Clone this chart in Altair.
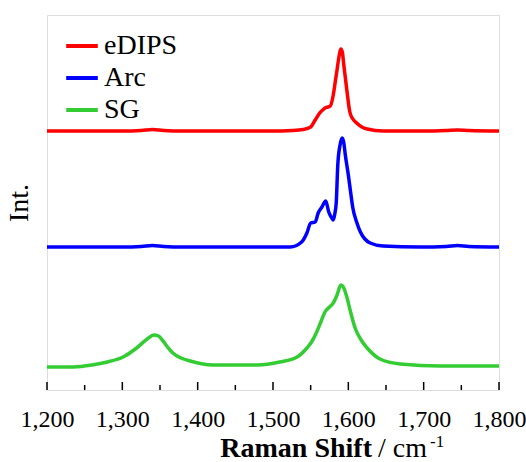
import altair as alt
import pandas as pd

# Raman shift (cm-1) and intensity (arbitrary units, offset stacked)
edips_x = [1200, 1260, 1300, 1325, 1340, 1355, 1380, 1450, 1500, 1525, 1540, 1550, 1556, 1562,
           1566, 1569, 1573, 1576, 1580, 1583, 1585, 1588, 1590, 1592, 1594, 1598, 1602, 1606,
           1611, 1618, 1625, 1646, 1700, 1730, 1745, 1760, 1800]
edips_y = [259, 259, 259, 259.5, 260.5, 259.5, 259, 259, 259, 259.5, 260.5, 263, 270, 277,
           280, 282, 283, 284, 295, 310, 320, 335, 341, 338, 325, 300, 278, 271,
           267, 263, 261, 259, 259, 259.5, 260, 259.5, 259]

arc_x = [1200, 1300, 1325, 1340, 1355, 1380, 1450, 1500, 1523, 1538, 1545, 1550, 1556, 1560,
         1565, 1570, 1574, 1578, 1580, 1582, 1584, 1586, 1589, 1592, 1594, 1596, 1600, 1603,
         1606, 1611, 1616, 1622, 1629, 1646, 1695, 1730, 1745, 1760, 1800]
arc_y = [143, 143, 143.5, 144.5, 143.5, 143, 143, 143, 143, 148, 157, 167, 168, 177,
         183, 189, 178, 172, 170, 176, 188, 225, 245, 252, 247, 235, 215, 198,
         182, 168, 158, 151, 147, 144, 143, 143.5, 144.5, 143.5, 143]

sg_x = [1200, 1235, 1260, 1280, 1301, 1319, 1333, 1342, 1348, 1353, 1360, 1367, 1378, 1390,
        1420, 1479, 1509, 1532, 1545, 1552, 1558, 1564, 1569, 1575, 1580, 1585, 1590, 1594,
        1598, 1603, 1609, 1617, 1625, 1642, 1669, 1722, 1800]
sg_y = [23, 23, 25, 28, 33, 42, 51, 55, 54, 50, 43, 37, 32, 29,
        25, 25, 28, 33, 42, 49, 58, 69, 78, 83, 87, 95, 105, 102,
        93, 78, 62, 50, 42, 31, 26, 24, 24]

series = ["eDIPS", "Arc", "SG"]
colors = ["#ff0000", "#0000ff", "#33cc33"]

major_ticks = [1200, 1300, 1400, 1500, 1600, 1700, 1800]
minor_ticks = [1250, 1350, 1450, 1550, 1650, 1750]

rows = []
for name, xs, ys in [("eDIPS", edips_x, edips_y), ("Arc", arc_x, arc_y), ("SG", sg_x, sg_y)]:
    for xv, yv in zip(xs, ys):
        rows.append({"shift": xv, "intensity": yv, "sample": name})
df = pd.DataFrame(rows)

FONT = "'Liberation Serif', 'Times New Roman', Times, serif"
xscale = alt.Scale(domain=[1200, 1800], nice=False, zero=False)

lines = alt.Chart(df).mark_line(strokeWidth=3.5, interpolate="monotone").encode(
    x=alt.X("shift:Q", scale=xscale,
            axis=alt.Axis(values=major_ticks, format=",d", title=None, ticks=False,
                          domain=False, grid=False, labelFont=FONT, labelFontSize=24,
                          labelColor="black", labelPadding=17, labelFlush=False)),
    y=alt.Y("intensity:Q", scale=alt.Scale(domain=[0, 375], nice=False),
            axis=alt.Axis(labels=False, ticks=False, domain=False, grid=False,
                          title="Int.", titleFont=FONT, titleFontSize=28,
                          titleFontWeight="normal", titleColor="black", titlePadding=14)),
    color=alt.Color("sample:N",
                    scale=alt.Scale(domain=series, range=colors),
                    sort=series,
                    legend=alt.Legend(title=None, orient="none", legendX=17, legendY=13,
                                      symbolType="stroke", symbolStrokeWidth=4,
                                      symbolSize=1000, labelFont=FONT, labelFontSize=28,
                                      labelColor="black", labelOffset=4, rowPadding=0,
                                      padding=0)),
    detail="sample:N",
    order="shift:Q",
)

major = alt.Chart(pd.DataFrame({"t": major_ticks})).mark_rule(color="black", strokeWidth=1.5).encode(
    x=alt.X("t:Q", scale=xscale), y=alt.value(375), y2=alt.value(367))
minor = alt.Chart(pd.DataFrame({"t": minor_ticks})).mark_rule(color="black", strokeWidth=1.5).encode(
    x=alt.X("t:Q", scale=xscale), y=alt.value(375), y2=alt.value(370))

title_bold = alt.Chart(pd.DataFrame({"s": ["Raman Shift"]})).mark_text(
    font=FONT, fontSize=28, fontWeight="bold", align="right", baseline="alphabetic", color="black"
).encode(text="s:N", x=alt.value(325), y=alt.value(442))
title_unit = alt.Chart(pd.DataFrame({"s": ["/ cm"]})).mark_text(
    font=FONT, fontSize=28, align="left", baseline="alphabetic", color="black"
).encode(text="s:N", x=alt.value(331), y=alt.value(442))
title_sup = alt.Chart(pd.DataFrame({"s": ["-1"]})).mark_text(
    font=FONT, fontSize=17, align="left", baseline="alphabetic", color="black"
).encode(text="s:N", x=alt.value(383), y=alt.value(432))

chart = alt.layer(lines, major, minor, title_bold, title_unit, title_sup).properties(
    width=452, height=375,
    padding={"left": 47, "top": 15, "right": 27, "bottom": 72},
    autosize=alt.AutoSizeParams(type="none"),
).configure_view(stroke="black", strokeWidth=1.5).configure(background="white")

chart.save("out.html", embed_options={"renderer": "svg", "actions": False})
